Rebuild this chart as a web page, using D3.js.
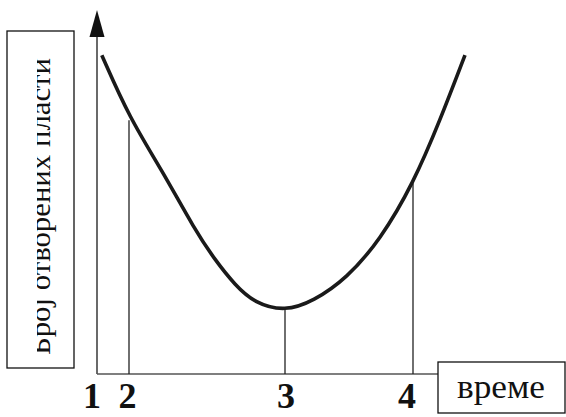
<!DOCTYPE html>
<html>
<head>
<meta charset="utf-8">
<script src="https://cdn.jsdelivr.net/npm/d3@7"></script>
<style>
  body { margin: 0; background: #fff; }
  svg { display: block; }
</style>
</head>
<body>
<div id="chart"></div>
<script>
// curve: time (0-100) vs number of open stomata (0-100)
var curveTime  = [1.2, 8.2, 16.2, 24.5, 29.5, 34.5, 39.5, 47, 54.1, 62.4, 70.8, 79.1, 85.8, 92];
var curveValue = [91.1, 73, 58.3, 41.1, 32.6, 25.4, 20.2, 17.9, 20.8, 27.3, 38.3, 54.5, 72.6, 91.1];

// marked moments on the time axis
var markLabels = ["1", "2", "3", "4"];
var markTime   = [0, 8, 47, 79];
var markValue  = [0, 72.5, 18.6, 54.5];

var yTitle = "Број отворених пласти";
var xTitle = "време";

var width = 566, height = 417;

var svg = d3.select("#chart")
  .append("svg")
  .attr("width", width)
  .attr("height", height);

// scales
var x = d3.scaleLinear().domain([0, 100]).range([97, 497]);
var y = d3.scaleLinear().domain([0, 100]).range([374, 24]);

var serif = "'Liberation Serif', 'Times New Roman', serif";

// y axis with arrow
svg.append("line")
  .attr("x1", x(0)).attr("x2", x(0))
  .attr("y1", y(0)).attr("y2", 30)
  .attr("stroke", "#444")
  .attr("stroke-width", 1.6);
svg.append("path")
  .attr("d", "M" + x(0) + ",10 L" + (x(0) - 7.5) + ",37 L" + (x(0) + 7.5) + ",37 Z")
  .attr("fill", "#111");

// x axis, runs into the title box
svg.append("line")
  .attr("x1", x(0)).attr("x2", 438)
  .attr("y1", y(0)).attr("y2", y(0))
  .attr("stroke", "#555")
  .attr("stroke-width", 1.6);

// vertical markers from axis to the curve
var marks = markTime.map(function(t, i) {
  return {t: t, v: markValue[i], label: markLabels[i]};
});

svg.selectAll(".mark")
  .data(marks.filter(function(d) { return d.t > 0; }))
  .enter()
  .append("line")
    .attr("class", "mark")
    .attr("x1", function(d) { return x(d.t); })
    .attr("x2", function(d) { return x(d.t); })
    .attr("y1", y(0))
    .attr("y2", function(d) { return y(d.v); })
    .attr("stroke", "#222")
    .attr("stroke-width", 1.3);

// the curve
var pts = curveTime.map(function(t, i) { return [t, curveValue[i]]; });
var line = d3.line()
  .x(function(d) { return x(d[0]); })
  .y(function(d) { return y(d[1]); })
  .curve(d3.curveBasis);

svg.append("path")
  .datum(pts)
  .attr("d", line)
  .attr("fill", "none")
  .attr("stroke", "#1a1a1a")
  .attr("stroke-width", 3.6);

// mark numbers
var labelShift = [-5, -1.5, 1, -6];
svg.selectAll(".mark-label")
  .data(marks)
  .enter()
  .append("text")
    .attr("class", "mark-label")
    .attr("x", function(d, i) { return x(d.t) + labelShift[i]; })
    .attr("y", 408)
    .attr("text-anchor", "middle")
    .style("font-family", serif)
    .style("font-weight", "bold")
    .style("font-size", "36px")
    .attr("fill", "#111")
    .text(function(d) { return d.label; });

// x title box
svg.append("rect")
  .attr("x", 438).attr("y", 362)
  .attr("width", 127).attr("height", 51)
  .attr("fill", "#fff")
  .attr("stroke", "#111")
  .attr("stroke-width", 1.3);
svg.append("text")
  .attr("x", 457)
  .attr("y", 398)
  .attr("textLength", 88)
  .attr("lengthAdjust", "spacingAndGlyphs")
  .style("font-family", serif)
  .style("font-size", "34px")
  .attr("fill", "#111")
  .text(xTitle);

// y title box (text is cut at the top, as in the original)
svg.append("rect")
  .attr("x", 7).attr("y", 31)
  .attr("width", 67).attr("height", 337)
  .attr("fill", "#fff")
  .attr("stroke", "#111")
  .attr("stroke-width", 1.3);

svg.append("clipPath")
  .attr("id", "ytclip")
  .append("rect")
    .attr("x", 37).attr("y", 32)
    .attr("width", 36).attr("height", 335);

svg.append("g")
  .attr("clip-path", "url(#ytclip)")
  .append("text")
    .attr("transform", "translate(50,355) rotate(-90)")
    .attr("textLength", 297)
    .attr("lengthAdjust", "spacingAndGlyphs")
    .style("font-family", serif)
    .style("font-size", "30px")
    .attr("fill", "#111")
    .text(yTitle);
</script>
</body>
</html>
